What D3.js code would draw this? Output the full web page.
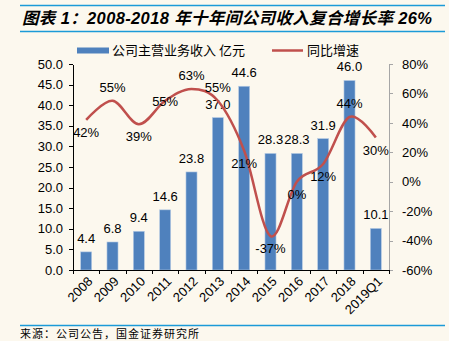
<!DOCTYPE html>
<html>
  <head>
    <meta charset="utf-8">
    <script src="https://d3js.org/d3.v7.min.js"></script>
    <style>
    body { margin: 0; background: #fcf8ee; }
    svg { display: block; font-family: "Liberation Sans", Arial, "Noto Sans CJK SC", sans-serif; }
    .axis text { font-size: 13px; fill: #000; }
    .axis path, .axis line { stroke: #000; shape-rendering: crispEdges; }
    .axis.right path, .axis.right line { stroke: #a6a6a6; }
    </style>
  </head>
  <body>
    <script>

    // revenue (100m yuan) and year-on-year growth (%)
    var years = ["2008", "2009", "2010", "2011", "2012", "2013", "2014", "2015", "2016", "2017", "2018", "2019Q1"];
    var revenue = [4.4, 6.8, 9.4, 14.6, 23.8, 37.0, 44.6, 28.3, 28.3, 31.9, 46.0, 10.1];
    var growth = [42, 55, 39, 55, 63, 55, 21, -37, 0, 12, 44, 30];
    // where each growth label sits relative to its point
    var growthLabelPos = ["below", "above", "below", "center", "above", "above", "below", "below", "below", "below", "above", "below"];

    var leftTicks = [0, 5, 10, 15, 20, 25, 30, 35, 40, 45, 50];
    var rightTicks = [-60, -40, -20, 0, 20, 40, 60, 80];

    var w = 449, h = 341;
    var plotLeft = 73, plotRight = 389, plotTop = 64, plotBottom = 270;
    var blue = "#4f81bd", red = "#c0504d", rule = "#1b9ad8";

    var svg = d3.select("body").append("svg")
      .attr("width", w)
      .attr("height", h);

    svg.append("rect").attr("width", w).attr("height", h).attr("fill", "#fcf8ee");

    // title with rules above and below
    svg.append("line").attr("x1", 20).attr("x2", 445).attr("y1", 5.5).attr("y2", 5.5)
      .attr("stroke", rule).attr("stroke-width", 1.5);
    svg.append("line").attr("x1", 20).attr("x2", 445).attr("y1", 31.5).attr("y2", 31.5)
      .attr("stroke", rule).attr("stroke-width", 1.5);
    svg.append("text")
      .attr("x", 22).attr("y", 23.5)
      .attr("font-family", "'Liberation Sans', 'Noto Sans CJK SC', sans-serif")
      .attr("font-size", 16.5)
      .attr("font-weight", "bold")
      .attr("font-style", "italic")
      .attr("textLength", 410)
      .text("图表 1：2008-2018 年十年间公司收入复合增长率 26%");

    // scales
    var x = d3.scaleBand()
      .domain(years)
      .range([plotLeft, plotRight])
      .paddingInner(0.58)
      .paddingOuter(0.29);

    var xEdges = d3.scaleLinear().domain([0, years.length]).range([plotLeft, plotRight]);

    var y = d3.scaleLinear().domain([0, 50]).range([plotBottom, plotTop]);
    var y2 = d3.scaleLinear().domain([-60, 80]).range([plotBottom, plotTop]);

    function cx(d) { return x(d) + x.bandwidth() / 2; }

    // bars
    svg.append("g")
      .selectAll("rect")
      .data(revenue)
      .enter()
      .append("rect")
      .attr("x", function(d, i) { return x(years[i]); })
      .attr("y", function(d) { return y(d); })
      .attr("width", x.bandwidth())
      .attr("height", function(d) { return plotBottom - y(d); })
      .attr("fill", blue)
      .attr("stroke", "#b9cde5")
      .attr("stroke-width", 0.6);

    // bar value labels
    svg.append("g")
      .selectAll("text")
      .data(revenue)
      .enter()
      .append("text")
      .attr("x", function(d, i) { return cx(years[i]); })
      .attr("y", function(d) { return y(d) - 9; })
      .attr("text-anchor", "middle")
      .attr("font-size", 13)
      .text(function(d) { return d.toFixed(1); });

    // growth line
    var line = d3.line()
      .x(function(d, i) { return cx(years[i]); })
      .y(function(d) { return y2(d); })
      .curve(d3.curveCardinal.tension(0));

    svg.append("path")
      .datum(growth)
      .attr("d", line)
      .attr("fill", "none")
      .attr("stroke", red)
      .attr("stroke-width", 2.5);

    // growth labels
    svg.append("g")
      .selectAll("text")
      .data(growth)
      .enter()
      .append("text")
      .attr("x", function(d, i) { return cx(years[i]); })
      .attr("y", function(d, i) {
        var p = growthLabelPos[i];
        if (p === "above") return y2(d) - 9;
        if (p === "below") return y2(d) + 17;
        return y2(d) + 5;
      })
      .attr("text-anchor", "middle")
      .attr("font-size", 13)
      .text(function(d) { return d + "%"; });

    // left axis
    svg.append("g")
      .attr("class", "axis")
      .attr("transform", "translate(" + plotLeft + ",0)")
      .call(d3.axisLeft(y).tickValues(leftTicks).tickSize(4).tickSizeOuter(0).tickPadding(6)
        .tickFormat(d3.format(".1f")));

    // right axis
    svg.append("g")
      .attr("class", "axis right")
      .attr("transform", "translate(" + plotRight + ",0)")
      .call(d3.axisRight(y2).tickValues(rightTicks).tickSize(4).tickSizeOuter(0).tickPadding(9)
        .tickFormat(function(d) { return d + "%"; }));

    // bottom axis: ticks between categories
    svg.append("g")
      .attr("class", "axis")
      .attr("transform", "translate(0," + plotBottom + ")")
      .call(d3.axisBottom(xEdges).ticks(years.length).tickSize(4).tickSizeOuter(0).tickFormat(""));

    // rotated category labels
    svg.append("g")
      .attr("class", "axis")
      .selectAll("text")
      .data(years)
      .enter()
      .append("text")
      .attr("transform", function(d) {
        return "translate(" + (cx(d) + 4) + "," + (plotBottom + 9) + ") rotate(-45)";
      })
      .attr("text-anchor", "end")
      .attr("dy", "0.35em")
      .text(function(d) { return d; });

    // legend
    var legend = svg.append("g").attr("font-size", 13)
      .attr("font-family", "'Noto Sans CJK SC', sans-serif");
    legend.append("rect").attr("x", 77).attr("y", 47.5).attr("width", 32).attr("height", 6).attr("fill", blue);
    legend.append("text").attr("x", 112).attr("y", 50).attr("dy", "0.35em").text("公司主营业务收入 亿元");
    legend.append("line").attr("x1", 272).attr("x2", 303).attr("y1", 50.5).attr("y2", 50.5)
      .attr("stroke", red).attr("stroke-width", 2.5);
    legend.append("text").attr("x", 307).attr("y", 50).attr("dy", "0.35em").text("同比增速");

    // source note
    svg.append("line").attr("x1", 20).attr("x2", 445).attr("y1", 325.5).attr("y2", 325.5)
      .attr("stroke", rule).attr("stroke-width", 1.5);
    svg.append("text")
      .attr("x", 20).attr("y", 334.5).attr("dy", "0.35em")
      .attr("font-family", "'Noto Sans CJK SC', sans-serif")
      .attr("font-size", 11)
      .attr("letter-spacing", 1)
      .text("来源：公司公告，国金证券研究所");

    </script>
  </body>
</html>
